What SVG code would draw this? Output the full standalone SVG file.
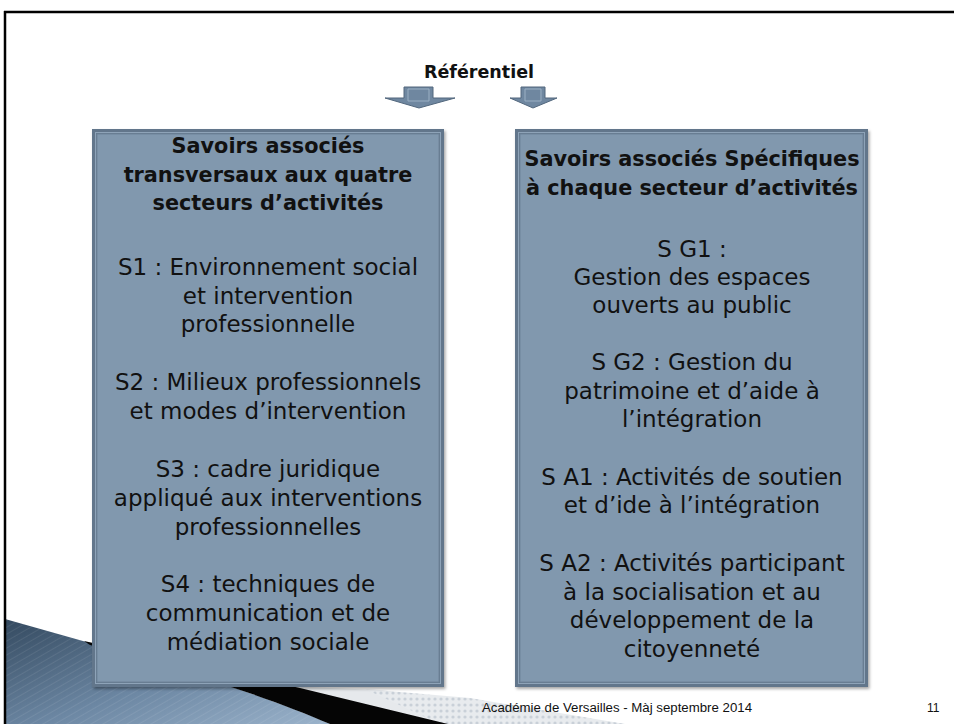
<svg xmlns="http://www.w3.org/2000/svg" width="954" height="724" viewBox="0 0 954 724">
<defs>
<style>
.t{font-family:"DejaVu Sans","Liberation Sans",sans-serif;font-size:23px;fill:#111;text-anchor:middle}
.b{font-weight:bold;font-size:20.8px}
.f{font-family:"Liberation Sans",sans-serif;font-size:12px;fill:#111}
.arrow{fill:#6f87a0;stroke:#52677d;stroke-width:1}
.arrowIn{fill:none;stroke:#9cb0c4;stroke-width:1}
</style>
<linearGradient id="blueG" x1="0" y1="0" x2="1" y2="1">
<stop offset="0" stop-color="#33495f"/>
<stop offset="0.55" stop-color="#6c87a3"/>
<stop offset="1" stop-color="#9bb3cb"/>
</linearGradient>
<pattern id="stripes" width="6" height="6" patternUnits="userSpaceOnUse" patternTransform="rotate(60)">
<rect width="6" height="6" fill="none"/>
<line x1="0" y1="0" x2="0" y2="6" stroke="#ffffff" stroke-opacity="0.08" stroke-width="2"/>
</pattern>
<pattern id="dots" width="6" height="6" patternUnits="userSpaceOnUse">
<rect width="6" height="6" fill="#e8ebee"/>
<circle cx="3" cy="3" r="1.6" fill="#c9d0d8"/>
</pattern>
<filter id="sh" x="-5%" y="-5%" width="110%" height="110%">
<feDropShadow dx="1.5" dy="2" stdDeviation="1.5" flood-color="#000" flood-opacity="0.35"/>
</filter>
</defs>
<rect width="954" height="724" fill="#ffffff"/>
<!-- decoration -->
<g id="decoration">
<path d="M5,619 L90,643 C190,672 270,698 330,724 L5,724 Z" fill="url(#blueG)"/>
<path d="M5,619 L90,643 C190,672 270,698 330,724 L5,724 Z" fill="url(#stripes)"/>
<path d="M280,686 L380,690 L625,724 L445,724 Z" fill="#e6e9ec"/>
<path d="M365,689 L470,698 L625,724 L440,724 Z" fill="url(#dots)"/>
<path d="M84,641 L300,688 L448,724 L330,724 C270,698 190,672 90,645 Z" fill="#050505"/>
</g>
<!-- frame -->
<g id="frame">
<line x1="4" y1="12" x2="954" y2="12" stroke="#000" stroke-width="2.5"/>
<line x1="5" y1="11" x2="5" y2="724" stroke="#000" stroke-width="2.5"/>
</g>
<!-- title -->
<g id="title">
<text class="t" x="479" y="78" style="font-weight:bold;font-size:17.5px">Référentiel</text>
</g>
<g id="connectors">
<path class="arrow" d="M404,87 L433,87 L433,98 L455,98 L419,108 L385,98 L404,98 Z"/>
<path class="arrowIn" d="M408,89 L429,89 L429,101 L408,101 Z"/>
<path class="arrow" d="M521,87 L545,87 L545,98 L557,98 L533,108 L510,98 L521,98 Z"/>
<path class="arrowIn" d="M525,89 L541,89 L541,101 L525,101 Z"/>
</g>
<!-- left box -->
<g id="box-transversaux">
<rect x="92" y="129" width="352" height="558" fill="#62768b" filter="url(#sh)"/>
<rect x="95.5" y="132.5" width="345" height="551" fill="none" stroke="#8ea3b8" stroke-width="1"/>
<rect x="97" y="134" width="342" height="548" fill="#8198ae" stroke="#6e8399" stroke-width="1"/>
<text class="t b" x="268" y="153">Savoirs associés</text>
<text class="t b" x="268" y="182">transversaux aux quatre</text>
<text class="t b" x="268" y="210">secteurs d’activités</text>
<text class="t" x="268" y="275">S1 : Environnement social</text>
<text class="t" x="268" y="304">et intervention</text>
<text class="t" x="268" y="332">professionnelle</text>
<text class="t" x="268" y="390">S2 : Milieux professionnels</text>
<text class="t" x="268" y="419">et modes d’intervention</text>
<text class="t" x="268" y="477">S3 : cadre juridique</text>
<text class="t" x="268" y="506">appliqué aux interventions</text>
<text class="t" x="268" y="535">professionnelles</text>
<text class="t" x="268" y="592">S4 : techniques de</text>
<text class="t" x="268" y="621">communication et de</text>
<text class="t" x="268" y="650">médiation sociale</text>
</g>
<!-- right box -->
<g id="box-specifiques">
<rect x="515" y="129" width="353" height="558" fill="#62768b" filter="url(#sh)"/>
<rect x="518.5" y="132.5" width="346" height="551" fill="none" stroke="#8ea3b8" stroke-width="1"/>
<rect x="520" y="134" width="343" height="548" fill="#8198ae" stroke="#6e8399" stroke-width="1"/>
<text class="t b" x="692" y="166">Savoirs associés Spécifiques</text>
<text class="t b" x="692" y="195">à chaque secteur d’activités</text>
<text class="t" x="692" y="257">S G1 :</text>
<text class="t" x="692" y="285">Gestion des espaces</text>
<text class="t" x="692" y="313">ouverts au public</text>
<text class="t" x="692" y="370">S G2 : Gestion du</text>
<text class="t" x="692" y="399">patrimoine et d’aide à</text>
<text class="t" x="692" y="427">l’intégration</text>
<text class="t" x="692" y="485">S A1 : Activités de soutien</text>
<text class="t" x="692" y="513">et d’ide à l’intégration</text>
<text class="t" x="692" y="571">S A2 : Activités participant</text>
<text class="t" x="692" y="600">à la socialisation et au</text>
<text class="t" x="692" y="628">développement de la</text>
<text class="t" x="692" y="657">citoyenneté</text>
</g>
<!-- footer -->
<g id="footer">
<text class="f" x="482" y="712" textLength="270" lengthAdjust="spacingAndGlyphs">Académie de Versailles - Màj septembre 2014</text>
<text class="f" x="927" y="712">11</text>
</g>
</svg>
